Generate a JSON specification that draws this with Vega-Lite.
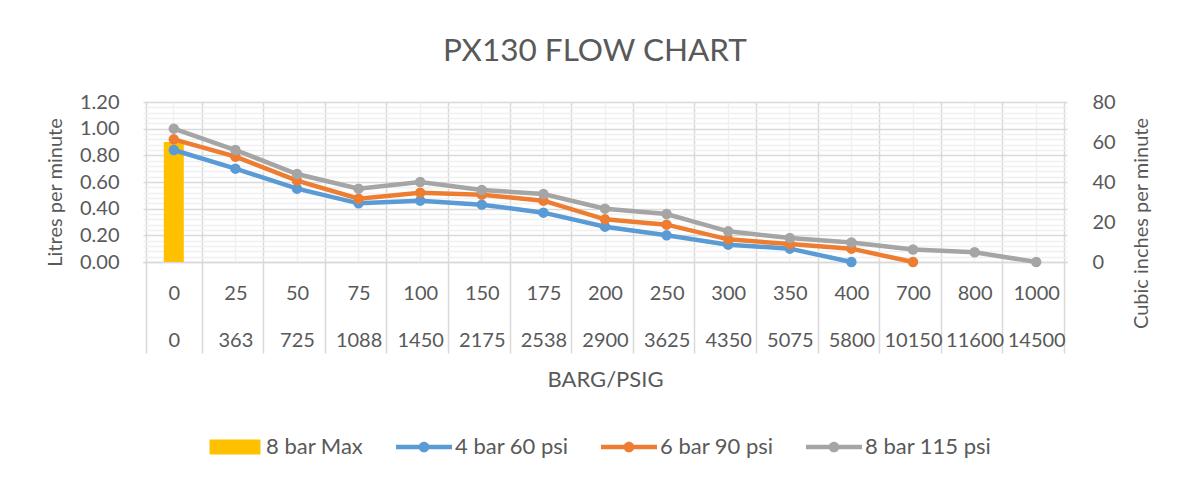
{
  "$schema": "https://vega.github.io/schema/vega-lite/v6.json",
  "autosize": {"type": "none"},
  "padding": {"left": 143, "top": 102, "right": 114, "bottom": 217},
  "width": 924,
  "height": 160,
  "background": "white",
  "config": {"view": {"stroke": null}, "font": "Lato"},
  "title": {"text": "PX130 FLOW CHART", "fontSize": 31.5, "font": "Lato", "fontWeight": "normal", "color": "#595959", "anchor": "middle", "baseline": "alphabetic", "offset": 0, "dx": -10},
  "datasets": {
    "bars": [{"cat": "0|0", "series": "8 bar Max", "lpm": 0.9}],
    "lines": [
      {"cat": "0|0", "series": "4 bar 60 psi", "lpm": 0.84},
      {"cat": "25|363", "series": "4 bar 60 psi", "lpm": 0.70},
      {"cat": "50|725", "series": "4 bar 60 psi", "lpm": 0.55},
      {"cat": "75|1088", "series": "4 bar 60 psi", "lpm": 0.44},
      {"cat": "100|1450", "series": "4 bar 60 psi", "lpm": 0.46},
      {"cat": "150|2175", "series": "4 bar 60 psi", "lpm": 0.43},
      {"cat": "175|2538", "series": "4 bar 60 psi", "lpm": 0.37},
      {"cat": "200|2900", "series": "4 bar 60 psi", "lpm": 0.265},
      {"cat": "250|3625", "series": "4 bar 60 psi", "lpm": 0.20},
      {"cat": "300|4350", "series": "4 bar 60 psi", "lpm": 0.13},
      {"cat": "350|5075", "series": "4 bar 60 psi", "lpm": 0.10},
      {"cat": "400|5800", "series": "4 bar 60 psi", "lpm": 0.0},
      {"cat": "0|0", "series": "6 bar 90 psi", "lpm": 0.92},
      {"cat": "25|363", "series": "6 bar 90 psi", "lpm": 0.79},
      {"cat": "50|725", "series": "6 bar 90 psi", "lpm": 0.61},
      {"cat": "75|1088", "series": "6 bar 90 psi", "lpm": 0.475},
      {"cat": "100|1450", "series": "6 bar 90 psi", "lpm": 0.52},
      {"cat": "150|2175", "series": "6 bar 90 psi", "lpm": 0.505},
      {"cat": "175|2538", "series": "6 bar 90 psi", "lpm": 0.46},
      {"cat": "200|2900", "series": "6 bar 90 psi", "lpm": 0.32},
      {"cat": "250|3625", "series": "6 bar 90 psi", "lpm": 0.28},
      {"cat": "300|4350", "series": "6 bar 90 psi", "lpm": 0.17},
      {"cat": "350|5075", "series": "6 bar 90 psi", "lpm": 0.135},
      {"cat": "400|5800", "series": "6 bar 90 psi", "lpm": 0.10},
      {"cat": "700|10150", "series": "6 bar 90 psi", "lpm": 0.0},
      {"cat": "0|0", "series": "8 bar 115 psi", "lpm": 1.0},
      {"cat": "25|363", "series": "8 bar 115 psi", "lpm": 0.84},
      {"cat": "50|725", "series": "8 bar 115 psi", "lpm": 0.66},
      {"cat": "75|1088", "series": "8 bar 115 psi", "lpm": 0.55},
      {"cat": "100|1450", "series": "8 bar 115 psi", "lpm": 0.60},
      {"cat": "150|2175", "series": "8 bar 115 psi", "lpm": 0.54},
      {"cat": "175|2538", "series": "8 bar 115 psi", "lpm": 0.51},
      {"cat": "200|2900", "series": "8 bar 115 psi", "lpm": 0.40},
      {"cat": "250|3625", "series": "8 bar 115 psi", "lpm": 0.36},
      {"cat": "300|4350", "series": "8 bar 115 psi", "lpm": 0.23},
      {"cat": "350|5075", "series": "8 bar 115 psi", "lpm": 0.18},
      {"cat": "400|5800", "series": "8 bar 115 psi", "lpm": 0.147},
      {"cat": "700|10150", "series": "8 bar 115 psi", "lpm": 0.094},
      {"cat": "800|11600", "series": "8 bar 115 psi", "lpm": 0.073},
      {"cat": "1000|14500", "series": "8 bar 115 psi", "lpm": 0.0}
    ]
  },
  "layer": [
    {
      "data": {"name": "bars"},
      "mark": {"type": "bar", "width": 20},
      "encoding": {
        "x": {
          "field": "cat", "type": "nominal",
          "sort": ["0|0","25|363","50|725","75|1088","100|1450","150|2175","175|2538","200|2900","250|3625","300|4350","350|5075","400|5800","700|10150","800|11600","1000|14500"],
          "axis": {
            "orient": "bottom", "title": "BARG/PSIG", "titleFontSize": 22, "titleColor": "#595959", "titleFont": "Lato", "titleFontWeight": "normal", "titlePadding": 16,
            "labelExpr": "isValid(datum.value) ? split(datum.value, '|') : ''", "labelAngle": 0, "labelFontSize": 20, "labelFont": "Lato", "labelColor": "#595959", "labelLineHeight": 47, "labelBaseline": "middle", "labelPadding": -60,
            "tickBand": "extent", "tickSize": 91, "tickColor": "#d9d9d9", "tickWidth": 1.5,
            "domainColor": "#d9d9d9", "domainWidth": 1.5,
            "grid": true, "gridColor": "#d9d9d9", "gridWidth": 1.5
          }
        },
        "y": {
          "field": "lpm", "type": "quantitative", "scale": {"domain": [0, 1.2]},
          "axis": {
            "orient": "left",
            "values": [0,0.04,0.08,0.12,0.16,0.2,0.24,0.28,0.32,0.36,0.4,0.44,0.48,0.52,0.56,0.6,0.64,0.68,0.72,0.76,0.8,0.84,0.88,0.92,0.96,1.0,1.04,1.08,1.12,1.16,1.2],
            "labelExpr": "round(datum.value*25) % 5 === 0 ? format(datum.value, '.2f') : ''",
            "labelOverlap": false,
            "grid": true,
            "gridColor": {"condition": {"test": "round(datum.value*25) % 5 === 0", "value": "#d9d9d9"}, "value": "#f0f0f0"},
            "gridWidth": 1.5,
            "ticks": false, "domain": false,
            "labelFontSize": 20, "labelFont": "Lato", "labelColor": "#595959", "labelPadding": 24,
            "title": "Litres per minute", "titleFontSize": 20, "titleFont": "Lato", "titleColor": "#595959", "titleFontWeight": "normal", "titlePadding": 14, "titleY": 90
          }
        },
        "color": {
          "field": "series", "type": "nominal",
          "scale": {"domain": ["8 bar Max", "4 bar 60 psi", "6 bar 90 psi", "8 bar 115 psi"], "range": ["#FFC000", "#5B9BD5", "#ED7D31", "#A5A5A5"]},
          "legend": {
            "orient": "none", "legendX": 64, "legendY": 317, "direction": "horizontal", "columns": 4, "title": null,
            "symbolSize": 3136, "labelFontSize": 22, "labelFont": "Lato", "labelColor": "#595959", "columnPadding": 32, "labelOffset": 3, "padding": 0,
            "encode": {
              "symbols": {
                "update": {
                  "shape": {"signal": "datum.value === '8 bar Max' ? 'M-0.91,-0.27H0.91V0.27H-0.91Z' : 'M-1,-0.08H1V0.08H-1Z M-0.19,0A0.19,0.19 0 0,1 0.19,0A0.19,0.19 0 0,1 -0.19,0Z'"},
                  "fill": {"scale": "color", "field": "value"},
                  "stroke": {"value": "transparent"},
                  "strokeWidth": {"value": 0},
                  "opacity": {"value": 1}
                }
              }
            }
          }
        }
      }
    },
    {
      "data": {"name": "lines"},
      "mark": {"type": "line", "strokeWidth": 4.5, "point": {"filled": true, "size": 110, "opacity": 1}},
      "encoding": {
        "x": {
          "field": "cat", "type": "nominal",
          "sort": ["0|0","25|363","50|725","75|1088","100|1450","150|2175","175|2538","200|2900","250|3625","300|4350","350|5075","400|5800","700|10150","800|11600","1000|14500"],
          "axis": {"orient": "top", "grid": true, "gridColor": "#f0f0f0", "gridWidth": 1.5, "labels": false, "ticks": false, "domain": false, "title": null}
        },
        "y": {"field": "lpm", "type": "quantitative", "scale": {"domain": [0, 1.2]}, "axis": null},
        "color": {"field": "series", "type": "nominal"}
      }
    },
    {
      "data": {"name": "bars"},
      "mark": {"type": "rule", "opacity": 0},
      "encoding": {
        "y": {
          "datum": 0, "type": "quantitative", "scale": {"domain": [0, 80]},
          "axis": {
            "orient": "right", "values": [0, 20, 40, 60, 80], "grid": false, "ticks": false, "domain": false,
            "labelFontSize": 20, "labelFont": "Lato", "labelColor": "#595959", "labelPadding": 25,
            "title": "Cubic inches per minute", "titleFontSize": 20, "titleFont": "Lato", "titleColor": "#595959", "titleFontWeight": "normal", "titlePadding": 36, "titleAngle": 270, "titleY": 121
          }
        }
      }
    }
  ],
  "resolve": {"scale": {"y": "independent"}, "axis": {"x": "independent", "y": "independent"}}
}
